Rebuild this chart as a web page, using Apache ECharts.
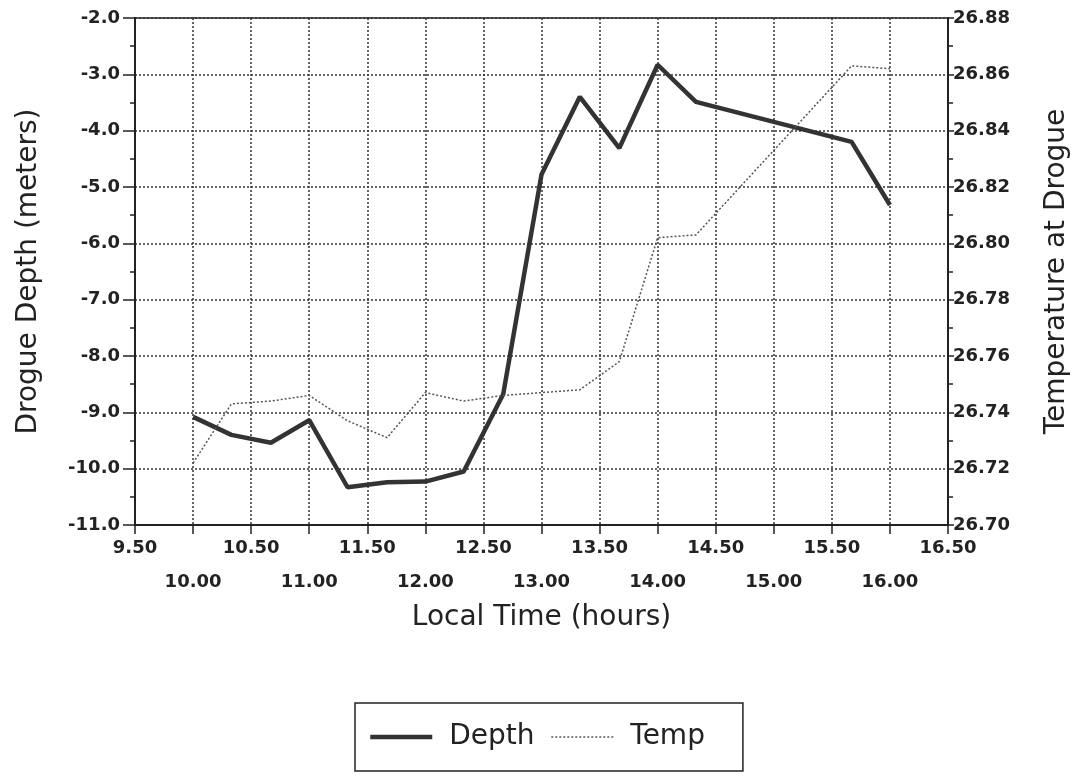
<!DOCTYPE html>
<html>
<head>
<meta charset="utf-8">
<script src="https://cdn.jsdelivr.net/npm/echarts@6/dist/echarts.min.js"></script>
<style>
  html, body { margin: 0; padding: 0; background: #fff; }
  #chart { width: 1082px; height: 777px; }
</style>
</head>
<body>
<div id="chart"></div>
<script>
// local time of each sample (hours)
var hours = [10.0, 10.33, 10.67, 11.0, 11.33, 11.67, 12.0, 12.33, 12.67, 13.0, 13.33, 13.67, 14.0, 14.33, 15.67, 16.0];
// drogue depth (m)
var depth = [-9.08, -9.40, -9.54, -9.14, -10.33, -10.24, -10.23, -10.05, -8.68, -4.78, -3.40, -4.31, -2.83, -3.49, -4.20, -5.32];
// temperature at drogue
var temp = [26.722, 26.743, 26.744, 26.746, 26.737, 26.731, 26.747, 26.744, 26.746, 26.747, 26.748, 26.758, 26.802, 26.803, 26.863, 26.862];

var xRange = [9.5, 16.5];
var depthRange = [-11, -2];
var tempRange = [26.70, 26.88];

var font = 'DejaVu Sans';
var ink = '#222';

function pairs(xs, ys) {
    var out = [];
    for (var i = 0; i < xs.length; i++) out.push([xs[i], ys[i]]);
    return out;
}

var tickLabel = {
    color: ink,
    fontFamily: font,
    fontWeight: 'bold',
    fontSize: 18
};
var gridLine = {
    show: true,
    lineStyle: { color: '#333', type: [2, 2], width: 1.5 }
};
var depthLine = { color: '#333', width: 4.5 };
var tempLine = { color: '#555', width: 1.5, type: [2, 2] };

var myChart = echarts.init(document.getElementById('chart'));
var option = {
    backgroundColor: '#fff',
    animation: false,
    grid: {
        left: 135, right: 134, top: 18, bottom: 252,
        show: true, borderColor: ink, borderWidth: 1.5
    },
    legend: {
        left: 355, top: 703,
        padding: [20, 38, 20, 13],
        borderColor: ink, borderWidth: 1.5,
        itemWidth: 62, itemHeight: 14, itemGap: 16,
        textStyle: { color: ink, fontFamily: font, fontSize: 28, padding: [0, 0, 0, 12] },
        data: [
            { name: 'Depth', itemStyle: { opacity: 0 }, lineStyle: depthLine },
            { name: 'Temp', itemStyle: { opacity: 0 }, lineStyle: tempLine }
        ]
    },
    xAxis: {
        type: 'value',
        min: xRange[0], max: xRange[1], interval: 0.5,
        name: 'Local Time (hours)',
        nameLocation: 'middle', nameGap: 68,
        nameTextStyle: { color: ink, fontFamily: font, fontSize: 28 },
        axisLine: { lineStyle: { color: ink, width: 2 } },
        axisTick: { show: true, length: 9, lineStyle: { color: ink, width: 1.5 } },
        axisLabel: Object.assign({}, tickLabel, {
            margin: 6, lineHeight: 34, showMinLabel: true, showMaxLabel: true,
            formatter: function (v) {
                var s = v.toFixed(2);
                return (Math.round(v * 2) % 2 === 1) ? s : '\n' + s;
            }
        }),
        splitLine: gridLine
    },
    yAxis: [
        {
            type: 'value',
            min: depthRange[0], max: depthRange[1], interval: 1,
            name: 'Drogue Depth (meters)',
            nameLocation: 'middle', nameGap: 92, nameRotate: 90,
            nameTextStyle: { color: ink, fontFamily: font, fontSize: 28 },
            axisLine: { show: true, lineStyle: { color: ink, width: 2 } },
            axisTick: { show: true, length: 12, lineStyle: { color: ink, width: 1.5 } },
            minorTick: { show: true, splitNumber: 2, length: 5, lineStyle: { color: ink, width: 1.5 } },
            axisLabel: Object.assign({}, tickLabel, {
                margin: 15,
                formatter: function (v) { return v.toFixed(1); }
            }),
            splitLine: gridLine
        },
        {
            type: 'value',
            position: 'right',
            min: tempRange[0], max: tempRange[1], interval: 0.02,
            name: 'Temperature at Drogue',
            nameLocation: 'middle', nameGap: 95, nameRotate: 90,
            nameTextStyle: { color: ink, fontFamily: font, fontSize: 28 },
            axisLine: { show: true, lineStyle: { color: ink, width: 2 } },
            axisTick: { show: true, length: 6, lineStyle: { color: ink, width: 1.5 } },
            minorTick: { show: true, splitNumber: 2, length: 5, lineStyle: { color: ink, width: 1.5 } },
            axisLabel: Object.assign({}, tickLabel, {
                margin: 5,
                formatter: function (v) { return v.toFixed(2); }
            }),
            splitLine: { show: false }
        }
    ],
    series: [
        {
            name: 'Depth',
            type: 'line',
            yAxisIndex: 0,
            symbol: 'none',
            itemStyle: { color: '#333' },
            lineStyle: depthLine,
            data: pairs(hours, depth)
        },
        {
            name: 'Temp',
            type: 'line',
            yAxisIndex: 1,
            symbol: 'none',
            itemStyle: { color: '#555' },
            lineStyle: tempLine,
            data: pairs(hours, temp)
        }
    ]
};
myChart.setOption(option);
</script>
</body>
</html>
